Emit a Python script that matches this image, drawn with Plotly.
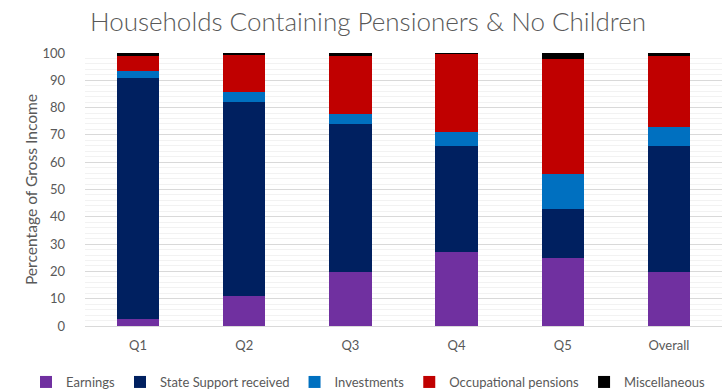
import plotly.graph_objects as go

categories = ["Q1", "Q2", "Q3", "Q4", "Q5", "Overall"]
earnings = [2.5, 11.1, 19.7, 27.2, 24.8, 19.9]
state_support = [88.4, 71.1, 54.2, 38.7, 18.1, 46.0]
investments = [2.5, 3.4, 3.8, 5.3, 12.8, 6.9]
occupational = [5.6, 13.7, 21.2, 28.7, 42.1, 26.1]
miscellaneous = [1.0, 0.7, 1.1, 0.1, 2.2, 1.1]

series = [
    ("Earnings", earnings, "#7030A0"),
    ("State Support received", state_support, "#002060"),
    ("Investments", investments, "#0070C0"),
    ("Occupational pensions", occupational, "#C00000"),
    ("Miscellaneous", miscellaneous, "#000000"),
]

FONT = "Lato"
GRAY = "#595959"
W, H = 722, 389
L, R, T, B = 85, 0, 53, 63
ph = H - T - B
pw = W - L - R

fig = go.Figure()
for name, vals, color in series:
    fig.add_trace(go.Bar(x=categories, y=vals, name=name, marker=dict(color=color, line=dict(width=0))))

fig.update_layout(
    barmode="stack",
    bargap=0.6,
    width=W,
    height=H,
    margin=dict(l=L, r=R, t=T, b=B, autoexpand=False),
    paper_bgcolor="white",
    plot_bgcolor="white",
    font=dict(family=FONT, color=GRAY, size=13),
    title=dict(
        text="Households Containing Pensioners & No Children",
        font=dict(family=FONT, size=26, color=GRAY, weight=300),
        x=368 / W, xanchor="center", xref="container",
        y=1 - 22 / H, yanchor="middle", yref="container",
    ),
    legend=dict(
        orientation="h",
        xref="paper", x=(26 - L) / pw, xanchor="left",
        yref="paper", y=(H - B - 382) / ph, yanchor="middle",
        font=dict(family=FONT, size=13, color=GRAY),
        itemwidth=30,
        traceorder="normal",
        tracegroupgap=0,
    ),
    showlegend=True,
)
fig.update_xaxes(showline=False, ticks="", tickfont=dict(size=13, color=GRAY), ticklabelstandoff=10)
fig.update_yaxes(
    range=[0, 100], dtick=10, showgrid=True, gridcolor="#D9D9D9", gridwidth=1,
    minor=dict(dtick=2, showgrid=True, gridcolor="#F2F2F2", gridwidth=1),
    zeroline=True, zerolinecolor="#D9D9D9", zerolinewidth=1,
    tickfont=dict(size=13, color=GRAY), ticklabelstandoff=19,
    title=dict(text="Percentage of Gross Income", font=dict(size=15.6, color=GRAY), standoff=0),
)

fig.write_html("out.html", config={"displayModeBar": False},
               post_script="document.body.style.margin='0';")
